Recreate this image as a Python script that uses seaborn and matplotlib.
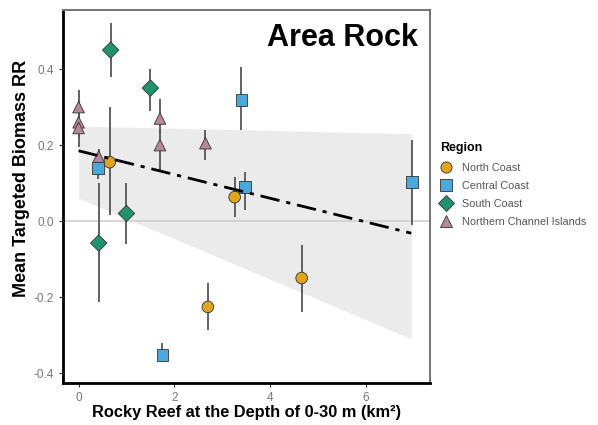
import numpy as np
import pandas as pd
import matplotlib
matplotlib.use('Agg')
import matplotlib.pyplot as plt
import seaborn as sns

# values
regions = ['North Coast', 'Central Coast', 'South Coast', 'Northern Channel Islands']

north_x = [0.65, 3.26, 2.70, 4.66]
north_y = [0.155, 0.063, -0.226, -0.150]
north_lo = [0.015, 0.010, -0.287, -0.240]
north_hi = [0.300, 0.116, -0.163, -0.063]

central_x = [0.40, 3.40, 3.47, 1.75, 6.97]
central_y = [0.140, 0.318, 0.090, -0.353, 0.103]
central_lo = [0.110, 0.240, 0.030, -0.370, -0.010]
central_hi = [0.160, 0.405, 0.130, -0.320, 0.213]

south_x = [0.67, 1.50, 1.00, 0.42]
south_y = [0.450, 0.350, 0.020, -0.058]
south_lo = [0.380, 0.290, -0.060, -0.213]
south_hi = [0.520, 0.400, 0.100, 0.100]

nci_x = [0.0, 0.0, 0.0, 0.42, 1.70, 1.70, 2.65]
nci_y = [0.300, 0.260, 0.245, 0.170, 0.270, 0.200, 0.205]
nci_lo = [0.270, 0.220, 0.195, 0.140, 0.230, 0.130, 0.160]
nci_hi = [0.345, 0.300, 0.280, 0.190, 0.320, 0.240, 0.240]

fit_x = [0.0, 6.95]
fit_y = [0.185, -0.032]
band_x = [0.0, 6.95]
band_lo = [0.06, -0.31]
band_hi = [0.25, 0.23]

palette = {'North Coast': '#E0A41E', 'Central Coast': '#4AA8DC',
           'South Coast': '#1F946C', 'Northern Channel Islands': '#B5889A'}
markers = {'North Coast': 'o', 'Central Coast': 's',
           'South Coast': 'D', 'Northern Channel Islands': '^'}

series = {
    'North Coast': (north_x, north_y, north_lo, north_hi),
    'Central Coast': (central_x, central_y, central_lo, central_hi),
    'South Coast': (south_x, south_y, south_lo, south_hi),
    'Northern Channel Islands': (nci_x, nci_y, nci_lo, nci_hi),
}

rows = []
for reg, (xs, ys, los, his) in series.items():
    for x, y, lo, hi in zip(xs, ys, los, his):
        rows.append({'area': x, 'rr': y, 'lo': lo, 'hi': hi, 'Region': reg})
df = pd.DataFrame(rows)

sns.set_style('white')
plt.rcParams['font.family'] = ['Liberation Sans', 'DejaVu Sans']
plt.rcParams['text.color'] = 'black'
plt.rcParams['axes.labelcolor'] = 'black'

fig = plt.figure(figsize=(5.98, 4.25), dpi=100)
ax = fig.add_axes([0.105, 0.099, 0.614, 0.877])

# confidence band and zero line
ax.fill_between(band_x, band_lo, band_hi, color='#e6e6e6', alpha=0.8, lw=0, zorder=0)
ax.axhline(0, color='#d0d0d0', lw=1.2, zorder=0.5)

# error bars
ax.vlines(df['area'], df['lo'], df['hi'], color='#555555', lw=1.3, zorder=1)

sns.scatterplot(data=df, x='area', y='rr', hue='Region', style='Region',
                hue_order=regions, style_order=regions, palette=palette,
                markers=markers, s=70, edgecolor='#333333', linewidth=0.6,
                legend=False, ax=ax, zorder=3)

ax.plot(fit_x, fit_y, color='black', lw=2, linestyle=(0, (7, 2.5, 1.5, 2.5)), zorder=4)

ax.set_xlim(-0.33, 7.34)
ax.set_ylim(-0.426, 0.555)
ax.set_xticks([0, 2, 4, 6])
ax.set_yticks([-0.4, -0.2, 0.0, 0.2, 0.4])
ax.set_yticklabels(['-0.4', '-0.2', '0.0', '0.2', '0.4'])
ax.tick_params(axis='both', labelsize=8.5, labelcolor='#777777', color='#333333',
               length=3, width=0.8, direction='out', bottom=True, left=True)

for side in ['left', 'bottom']:
    ax.spines[side].set_color('black')
    ax.spines[side].set_linewidth(2)
for side in ['top', 'right']:
    ax.spines[side].set_color('#777777')
    ax.spines[side].set_linewidth(1.5)

ax.set_xlabel('Rocky Reef at the Depth of 0-30 m (km²)', fontsize=11.8,
              fontweight='bold', labelpad=1)
ax.set_ylabel('Mean Targeted Biomass RR', fontsize=13, fontweight='bold')
ax.yaxis.set_label_coords(-0.088, 0.55)

ax.text(0.966, 0.965, 'Area Rock', transform=ax.transAxes, ha='right', va='top',
        fontsize=22, fontweight='bold', color='black')

handles = [plt.Line2D([], [], marker=markers[r], color='none', markerfacecolor=palette[r],
                      markeredgecolor='#333333', markeredgewidth=0.6, markersize=8)
           for r in regions]
leg = fig.legend(handles, regions, title='Region', loc='upper left',
                 bbox_to_anchor=(0.728, 0.675), frameon=False, fontsize=7.8,
                 title_fontsize=9, labelspacing=0.75, handletextpad=0.9,
                 borderaxespad=0, handlelength=1.2)
leg.get_title().set_fontweight('bold')
leg._legend_box.align = 'left'
for t in leg.get_texts():
    t.set_color('#555555')

fig.savefig('out.png', dpi=100)
